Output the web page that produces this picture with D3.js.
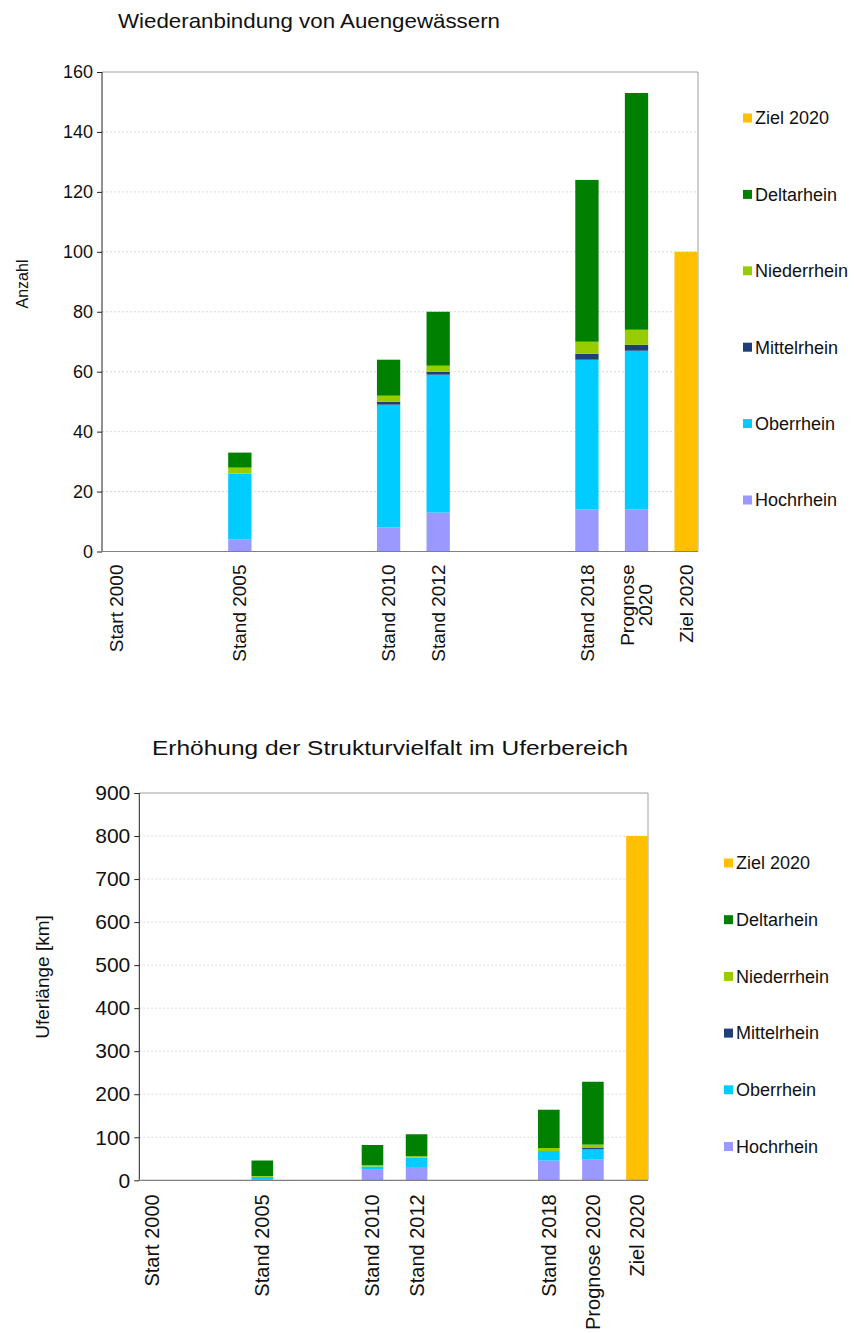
<!DOCTYPE html>
<html>
<head>
<meta charset="utf-8">
<script src="https://cdn.jsdelivr.net/npm/d3@7"></script>
<style>
  html, body { margin: 0; padding: 0; background: #fff; }
  svg { display: block; font-family: "Liberation Sans", Arial, sans-serif; }
</style>
</head>
<body>
<svg id="chart" width="854" height="1333"></svg>
<script>
// ---------- DATA ----------
const categories = ["Start 2000", "Stand 2005", "Stand 2010", "Stand 2012", "Stand 2018", "Prognose 2020", "Ziel 2020"];
// position of each category along the (uneven) category axis, in axis units
const topAxisSlots    = [0, 2.5, 5.5, 6.5, 9.5, 10.5, 11.5];
const bottomAxisSlots = [0, 2.5, 5, 6, 9, 10, 11];

const seriesNames = ["Hochrhein", "Oberrhein", "Mittelrhein", "Niederrhein", "Deltarhein", "Ziel 2020"];

// Chart 1: Wiederanbindung von Auengewässern (Anzahl)
const topHochrhein   = [0, 4, 8, 13, 14, 14, 0];
const topOberrhein   = [0, 22, 41, 46, 50, 53, 0];
const topMittelrhein = [0, 0, 1, 1, 2, 2, 0];
const topNiederrhein = [0, 2, 2, 2, 4, 5, 0];
const topDeltarhein  = [0, 5, 12, 18, 54, 79, 0];
const topZiel        = [0, 0, 0, 0, 0, 0, 100];
const topTicks = [0, 20, 40, 60, 80, 100, 120, 140, 160];

// Chart 2: Erhöhung der Strukturvielfalt im Uferbereich (Uferlänge km)
const botHochrhein   = [0, 3, 26, 31, 46, 49, 0];
const botOberrhein   = [0, 5, 6, 22, 22, 23, 0];
const botMittelrhein = [0, 0, 0, 0, 0, 3, 0];
const botNiederrhein = [0, 2, 3, 3, 7, 8, 0];
const botDeltarhein  = [0, 36, 47, 51, 89, 146, 0];
const botZiel        = [0, 0, 0, 0, 0, 0, 800];
const bottomTicks = [0, 100, 200, 300, 400, 500, 600, 700, 800, 900];

const colors = {
  "Hochrhein": "#9999ff",
  "Oberrhein": "#00ccff",
  "Mittelrhein": "#1f3f78",
  "Niederrhein": "#99cc00",
  "Deltarhein": "#008000",
  "Ziel 2020": "#ffc000"
};
const legendOrder = ["Ziel 2020", "Deltarhein", "Niederrhein", "Mittelrhein", "Oberrhein", "Hochrhein"];

// ---------- DRAWING ----------
const svg = d3.select("#chart");

function drawChart(cfg) {
  const g = svg.append("g");
  const rows = categories.map((c, i) => {
    const r = { cat: c, slot: cfg.slots[i] };
    seriesNames.forEach((s, k) => r[s] = cfg.series[k][i]);
    return r;
  });

  const x = d3.scaleLinear().domain(cfg.xDomain).range([cfg.left, cfg.right]);
  const y = d3.scaleLinear().domain([0, cfg.ticks[cfg.ticks.length - 1]]).range([cfg.bottom, cfg.top]);
  const barW = x(cfg.barUnits) - x(0);

  // gridlines
  g.append("g").selectAll("line").data(cfg.ticks.slice(1, -1)).join("line")
    .attr("x1", cfg.left).attr("x2", cfg.right)
    .attr("y1", d => y(d)).attr("y2", d => y(d))
    .attr("stroke", "#d9d9d9").attr("stroke-width", 1).attr("stroke-dasharray", "2,2");

  // frame (top & right)
  g.append("path")
    .attr("d", `M${cfg.left},${y(cfg.ticks[cfg.ticks.length - 1])}H${cfg.right}V${cfg.bottom}`)
    .attr("fill", "none").attr("stroke", "#a0a0a0").attr("stroke-width", 1);

  // bars
  const stacked = d3.stack().keys(seriesNames)(rows);
  g.append("g").selectAll("g").data(stacked).join("g")
    .attr("fill", d => colors[d.key])
    .selectAll("rect").data(d => d.filter(p => p[1] - p[0] > 0)).join("rect")
    .attr("x", d => x(d.data.slot) - barW / 2)
    .attr("width", barW)
    .attr("y", d => y(d[1]))
    .attr("height", d => y(d[0]) - y(d[1]));

  // y axis
  const yAxis = d3.axisLeft(y).tickValues(cfg.ticks).tickSize(5).tickPadding(4).tickFormat(d3.format("d"));
  const ya = g.append("g").attr("transform", `translate(${cfg.left},0)`).call(yAxis);
  ya.select(".domain").attr("stroke", "#222").attr("d", `M0,${cfg.top}V${cfg.bottom}`);
  ya.selectAll(".tick line").attr("stroke", "#222");
  ya.selectAll(".tick text").attr("font-size", cfg.tickFont).attr("fill", "#111")
    .attr("font-family", "Liberation Sans, Arial, sans-serif");

  // x axis baseline
  g.append("line").attr("x1", cfg.left).attr("x2", cfg.right)
    .attr("y1", cfg.bottom).attr("y2", cfg.bottom)
    .attr("stroke", "#808080").attr("stroke-width", 1.2);

  // x labels (rotated)
  rows.forEach((r, i) => {
    const lines = cfg.labelLines[i];
    const t = g.append("text")
      .attr("font-size", cfg.xFont).attr("fill", "#111");
    if (lines.length === 1) {
      t.attr("transform", `translate(${x(r.slot)},${cfg.bottom + cfg.labelGap}) rotate(-90)`)
        .attr("text-anchor", "end").attr("dy", "0.35em").text(lines[0]);
    } else {
      const tmp = g.append("text").attr("font-size", cfg.xFont).text(lines.reduce((a, b) => a.length >= b.length ? a : b));
      const w = tmp.node().getComputedTextLength();
      tmp.remove();
      t.attr("transform", `translate(${x(r.slot)},${cfg.bottom + cfg.labelGap + w / 2}) rotate(-90)`)
        .attr("text-anchor", "middle");
      const n = lines.length;
      lines.forEach((ln, k) => {
        t.append("tspan").attr("x", 0).attr("y", 0)
          .attr("dy", `${(k - (n - 1) / 2) * 0.95 + 0.35}em`).text(ln);
      });
    }
  });

  // y axis title
  g.append("text")
    .attr("transform", `translate(${cfg.yTitleX},${cfg.yTitleY}) rotate(-90)`)
    .attr("text-anchor", "middle").attr("dy", "0.35em")
    .attr("font-size", cfg.yTitleFont).attr("fill", "#111").text(cfg.yTitle);

  // chart title
  g.append("text")
    .attr("x", cfg.titleX).attr("y", cfg.titleY)
    .attr("font-size", cfg.titleFont).attr("fill", "#111")
    .attr("textLength", cfg.titleLen).attr("lengthAdjust", "spacingAndGlyphs")
    .text(cfg.title);

  // legend
  const lg = g.append("g");
  legendOrder.forEach((s, k) => {
    const cy = cfg.legendY0 + k * cfg.legendStep;
    lg.append("rect").attr("x", cfg.legendX).attr("y", cy - 4.5)
      .attr("width", 9).attr("height", 9).attr("fill", colors[s]);
    lg.append("text").attr("x", cfg.legendX + 12).attr("y", cy).attr("dy", "0.35em")
      .attr("font-size", cfg.legendFont).attr("fill", "#111").text(s);
  });
}

drawChart({
  slots: topAxisSlots,
  series: [topHochrhein, topOberrhein, topMittelrhein, topNiederrhein, topDeltarhein, topZiel],
  ticks: topTicks,
  xDomain: [-0.28, 11.74],
  barUnits: 0.47,
  left: 102, right: 698, top: 72, bottom: 551.5,
  tickFont: 18, xFont: 19, labelGap: 13,
  labelLines: [["Start 2000"], ["Stand 2005"], ["Stand 2010"], ["Stand 2012"], ["Stand 2018"], ["Prognose", "2020"], ["Ziel 2020"]],
  yTitle: "Anzahl", yTitleX: 22, yTitleY: 284, yTitleFont: 16,
  title: "Wiederanbindung von Auengewässern", titleX: 118, titleY: 28, titleFont: 21, titleLen: 382,
  legendX: 743, legendY0: 118, legendStep: 76.4, legendFont: 18
});

drawChart({
  slots: bottomAxisSlots,
  series: [botHochrhein, botOberrhein, botMittelrhein, botNiederrhein, botDeltarhein, botZiel],
  ticks: bottomTicks,
  xDomain: [-0.29, 11.25],
  barUnits: 0.49,
  left: 139.3, right: 648, top: 793, bottom: 1180.3,
  tickFont: 21, xFont: 20, labelGap: 14,
  labelLines: categories.map(c => [c]),
  yTitle: "Uferlänge [km]", yTitleX: 42, yTitleY: 977, yTitleFont: 19,
  title: "Erhöhung der Strukturvielfalt im Uferbereich", titleX: 152, titleY: 755, titleFont: 21, titleLen: 476,
  legendX: 724, legendY0: 863, legendStep: 56.7, legendFont: 18
});
</script>
</body>
</html>
